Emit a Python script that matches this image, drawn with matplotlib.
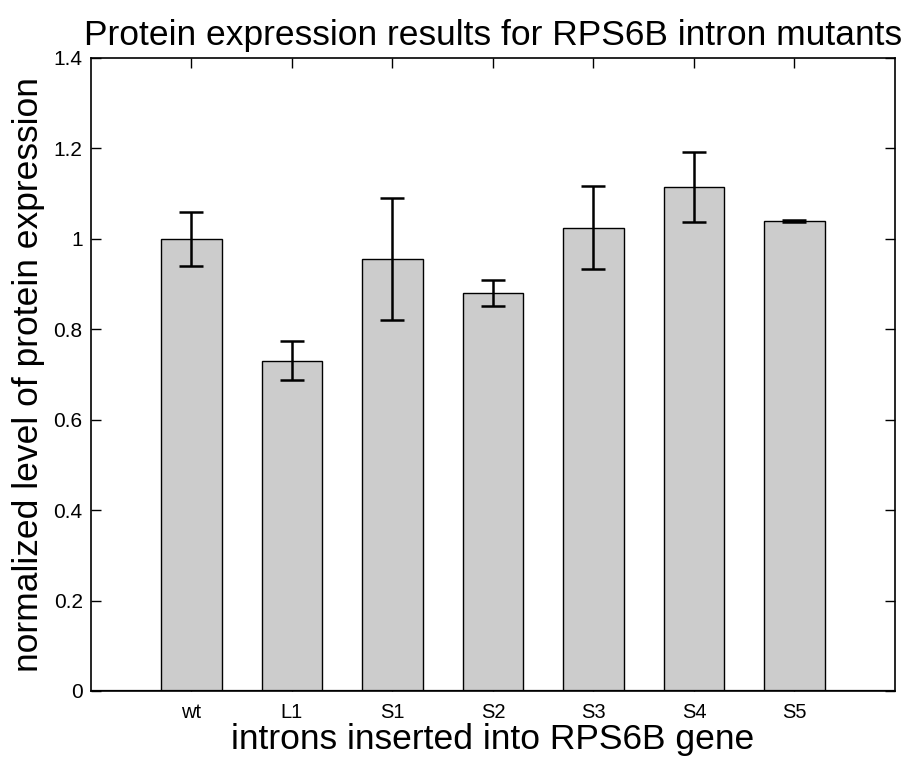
import numpy as np
import matplotlib.pyplot as plt

plt.rcParams['font.family'] = ['Liberation Sans', 'DejaVu Sans']

# data
labels = ['wt', 'L1', 'S1', 'S2', 'S3', 'S4', 'S5']
means = [1.0, 0.73, 0.955, 0.88, 1.025, 1.115, 1.04]
errs = [0.06, 0.043, 0.135, 0.029, 0.092, 0.078, 0.002]
yticks = [0, 0.2, 0.4, 0.6, 0.8, 1.0, 1.2, 1.4]
ytick_labels = ['0', '0.2', '0.4', '0.6', '0.8', '1', '1.2', '1.4']

x = np.arange(1, len(labels) + 1)

fig = plt.figure(figsize=(9.01, 7.59), dpi=100)
ax = fig.add_axes([0.101, 0.0896, 0.8923, 0.834])

ax.bar(x, means, width=0.6, color='#cccccc', edgecolor='black', linewidth=1, zorder=2)
ax.errorbar(x, means, yerr=errs, fmt='none', ecolor='black', elinewidth=1.8,
            capsize=8.5, capthick=1.8, zorder=3)
ax.axhline(0, color='black', linewidth=1.6, zorder=4)

ax.set_xlim(0, 8)
ax.set_ylim(0, 1.4)
ax.set_xticks(x)
ax.set_xticklabels(labels, fontsize=14.5)
ax.set_yticks(yticks)
ax.set_yticklabels(ytick_labels, fontsize=15)
ax.tick_params(direction='in', length=7, width=1, top=True, right=True, pad=6)
ax.tick_params(axis='x', pad=9)
for s in ax.spines.values():
    s.set_linewidth(1.2)

ax.set_xlabel('introns inserted into RPS6B gene', fontsize=25.5, labelpad=0.5)
ax.set_ylabel('normalized level of protein expression', fontsize=25.5, labelpad=6)
ax.set_title('Protein expression results for RPS6B intron mutants', fontsize=25.5, pad=9)

fig.savefig('out.png', dpi=100)
